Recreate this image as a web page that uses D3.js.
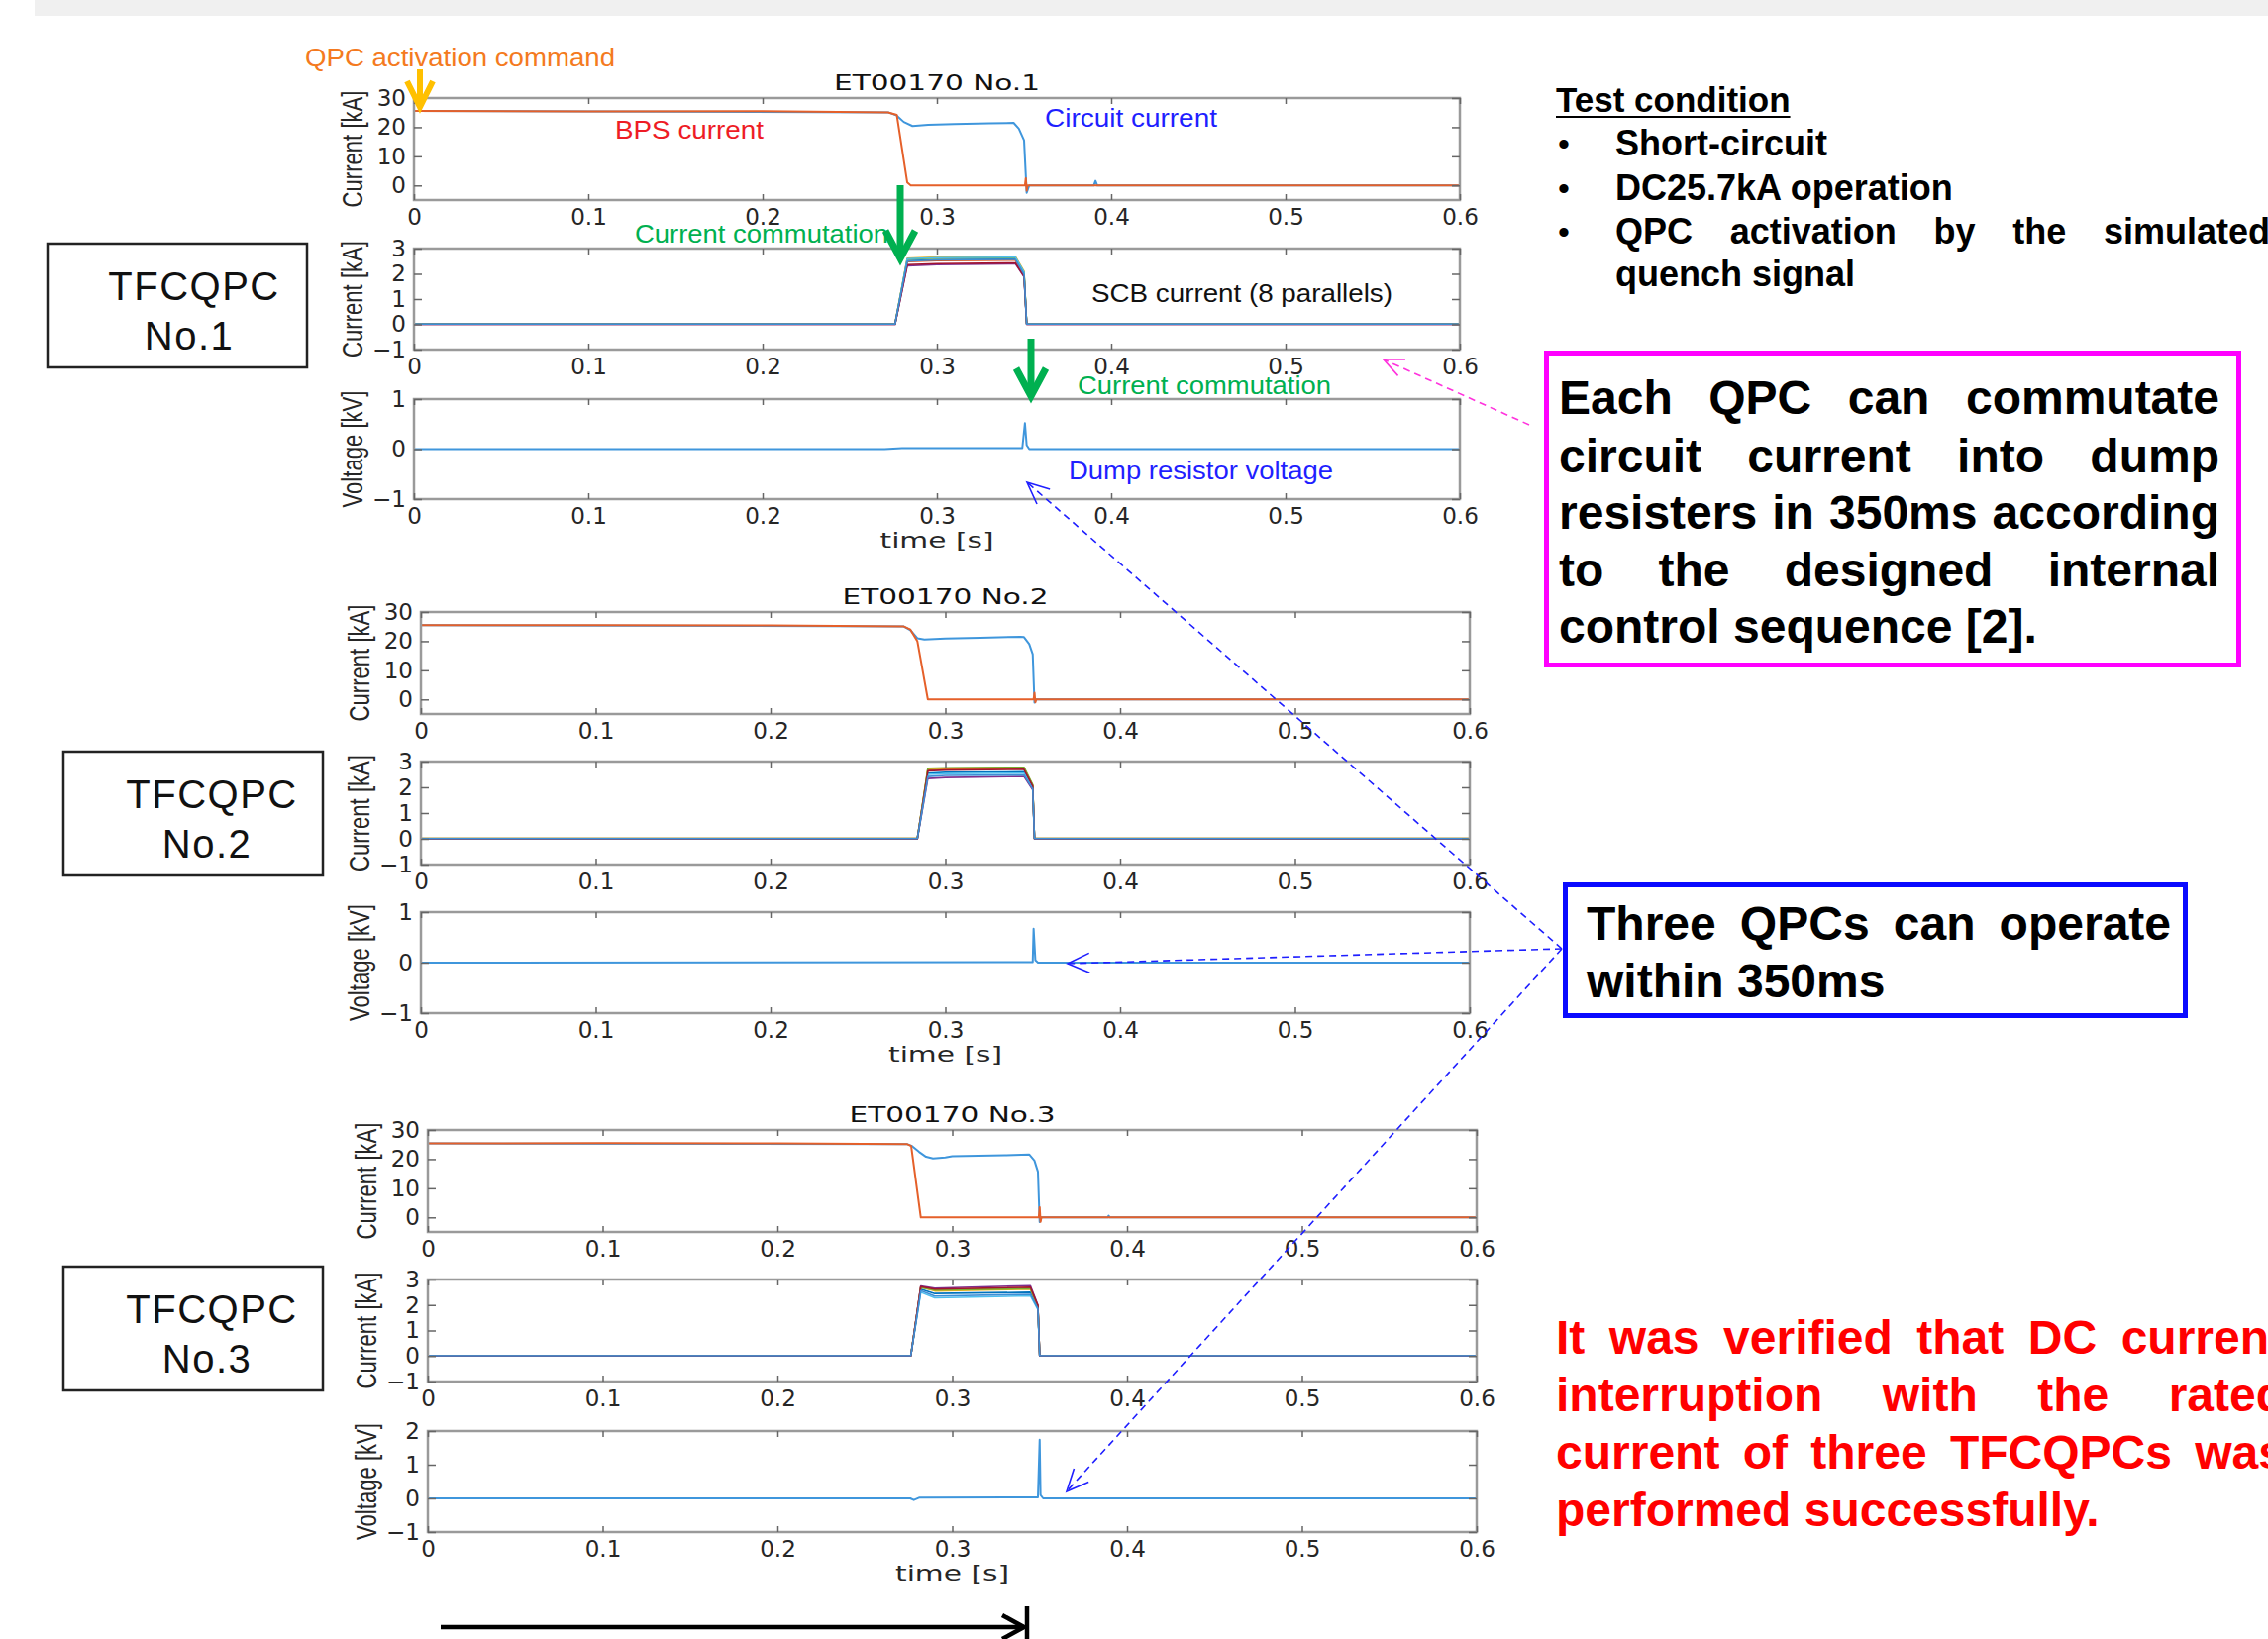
<!DOCTYPE html>
<html>
<head>
<meta charset="utf-8">
<script src="https://cdnjs.cloudflare.com/ajax/libs/d3/7.8.5/d3.min.js"></script>
<style>
  html, body { margin: 0; padding: 0; background: #fff; overflow: hidden; }
  svg { display: block; }
</style>
</head>
<body>
<div id="vis"></div>
<script>
// ---------------- values ----------------
const timeTicks = [0, 0.1, 0.2, 0.3, 0.4, 0.5, 0.6];
const currentTicks = [0, 10, 20, 30];
const scbTicks = [-1, 0, 1, 2, 3];
const voltTicks = [-1, 0, 1];
const voltTicks3 = [-1, 0, 1, 2];

const qpcTitles = ["ET00170 No.1", "ET00170 No.2", "ET00170 No.3"];
const boxNames = ["No.1", "No.2", "No.3"];

// BPS current [kA]  (time [s], value)
const bps1 = [[0,25.6],[0.1,25.4],[0.2,25.5],[0.272,25.1],[0.277,24.2],[0.283,1.0],[0.285,0],[0.3505,0],[0.351,2.5],[0.3515,-1.8],[0.352,0],[0.6,0]];
const bps2 = [[0,25.5],[0.1,25.5],[0.2,25.4],[0.276,25.1],[0.280,24.0],[0.284,20.0],[0.290,0],[0.3505,0],[0.351,2.3],[0.3515,-1.0],[0.352,0],[0.6,0]];
const bps3 = [[0,25.4],[0.1,25.5],[0.2,25.4],[0.274,25.2],[0.2765,24.5],[0.282,0],[0.3495,0],[0.350,3.5],[0.3505,-1.5],[0.351,0],[0.6,0]];

// circuit current [kA]
const circ1 = [[0,25.6],[0.272,25.1],[0.277,24.0],[0.281,21.8],[0.286,20.4],[0.295,20.8],[0.31,21.1],[0.33,21.3],[0.344,21.5],[0.347,19.5],[0.350,15.5],[0.3515,-2.5],[0.353,0],[0.390,0],[0.391,1.6],[0.392,0],[0.6,0]];
const circ2 = [[0,25.5],[0.276,25.1],[0.280,23.8],[0.284,21.0],[0.288,20.6],[0.30,20.9],[0.32,21.2],[0.343,21.5],[0.345,21.4],[0.348,19.0],[0.350,15.5],[0.351,-1.1],[0.352,0],[0.6,0]];
const circ3 = [[0,25.4],[0.274,25.2],[0.277,24.5],[0.281,22.5],[0.285,20.8],[0.289,20.2],[0.296,20.6],[0.30,21.0],[0.33,21.3],[0.344,21.6],[0.347,19.5],[0.349,15.7],[0.350,-1.6],[0.351,0],[0.389,0],[0.3895,0.6],[0.390,0],[0.6,0]];

// SCB currents [kA], 8 parallels: shared time points + one value row per parallel
const scbColors = ["#0072bd", "#d95319", "#edb120", "#7e2f8e", "#77ac30", "#4dbeee", "#a2142f", "#3d8fd6"];
const scbTime1 = [0, 0.276, 0.283, 0.300, 0.345, 0.350, 0.3515, 0.6];
const scb1 = [
  [0.02, 0.02, 2.52, 2.56, 2.58, 2.00, 0.02, 0.02],
  [0.01, 0.01, 2.48, 2.52, 2.54, 1.96, 0.01, 0.01],
  [0.03, 0.03, 2.62, 2.66, 2.69, 2.10, 0.03, 0.03],
  [0.00, 0.00, 2.32, 2.36, 2.40, 1.88, 0.00, 0.00],
  [0.02, 0.02, 2.58, 2.62, 2.64, 2.05, 0.02, 0.02],
  [0.01, 0.01, 2.60, 2.64, 2.66, 2.06, 0.01, 0.01],
  [0.00, 0.00, 2.36, 2.40, 2.43, 1.90, 0.00, 0.00],
  [0.01, 0.01, 2.50, 2.55, 2.57, 1.98, 0.01, 0.01]
];
const scbTime2 = [0, 0.284, 0.290, 0.300, 0.345, 0.350, 0.351, 0.6];
const scb2 = [
  [0.01, 0.01, 2.55, 2.58, 2.60, 2.00, 0.01, 0.01],
  [0.02, 0.02, 2.68, 2.70, 2.72, 2.05, 0.02, 0.02],
  [0.01, 0.01, 2.72, 2.74, 2.76, 2.08, 0.01, 0.01],
  [0.00, 0.00, 2.34, 2.38, 2.42, 1.90, 0.00, 0.00],
  [0.02, 0.02, 2.74, 2.76, 2.78, 2.10, 0.02, 0.02],
  [0.01, 0.01, 2.50, 2.53, 2.55, 1.98, 0.01, 0.01],
  [0.00, 0.00, 2.64, 2.67, 2.70, 2.04, 0.00, 0.00],
  [0.01, 0.01, 2.42, 2.46, 2.48, 1.94, 0.01, 0.01]
];
const scbTime3 = [0, 0.2763, 0.282, 0.290, 0.3447, 0.349, 0.350, 0.6];
const scb3 = [
  [0.01, 0.01, 2.62, 2.45, 2.50, 1.90, 0.01, 0.01],
  [0.02, 0.02, 2.72, 2.60, 2.66, 1.95, 0.02, 0.02],
  [0.01, 0.01, 2.70, 2.55, 2.62, 1.93, 0.01, 0.01],
  [0.00, 0.00, 2.75, 2.66, 2.76, 2.00, 0.00, 0.00],
  [0.02, 0.02, 2.68, 2.58, 2.64, 1.95, 0.02, 0.02],
  [0.01, 0.01, 2.50, 2.28, 2.36, 1.82, 0.01, 0.01],
  [0.00, 0.00, 2.72, 2.62, 2.70, 1.98, 0.00, 0.00],
  [0.01, 0.01, 2.56, 2.35, 2.42, 1.86, 0.01, 0.01]
];

// dump resistor voltage [kV]
const volt1 = [[0,0],[0.27,0],[0.28,0.02],[0.349,0.02],[0.3505,0.52],[0.3515,0.08],[0.353,0],[0.6,0]];
const volt2 = [[0,0],[0.35,0.01],[0.3505,0.67],[0.3515,0.05],[0.353,0],[0.6,0]];
const volt3 = [[0,0],[0.276,0],[0.278,-0.05],[0.281,0.02],[0.349,0.03],[0.350,1.74],[0.3505,0.1],[0.352,0],[0.6,0]];

// slide texts
const testLines = ["Short-circuit", "DC25.7kA operation", "QPC activation by the simulated", "quench signal"];
const magentaLines = ["Each QPC can commutate", "circuit current into dump", "resisters in 350ms according", "to the designed internal", "control sequence [2]."];
const blueLines = ["Three QPCs can operate", "within 350ms"];
const redLines = ["It was verified that DC current", "interruption with the rated", "current of three TFCQPCs was", "performed successfully."];

// ---------------- drawing ----------------
const W = 2290, H = 1655;
const tickFont = "'DejaVu Sans', Verdana, sans-serif";
const narrowFont = "'Liberation Sans Narrow', 'Liberation Sans', Arial, sans-serif";
const boldFont = "'Liberation Sans', Arial, sans-serif";

const svg = d3.select("#vis").append("svg")
    .attr("width", W)
    .attr("height", H);

svg.append("rect").attr("width", W).attr("height", H).attr("fill", "#fff");
// grey band of the slide header
svg.append("rect").attr("x", 35).attr("y", 0).attr("width", W - 35).attr("height", 16).attr("fill", "#f0f0f0");

const groups = [
  { x0: 418, x1: 1474, tops: [99, 251, 403], bots: [202, 353, 504], boxX: 48, boxY: 246, boxW: 262, txt: 196, ntxt: 191 },
  { x0: 425, x1: 1484, tops: [618, 769, 921], bots: [721, 873, 1023], boxX: 64, boxY: 759, boxW: 262, txt: 214, ntxt: 209 },
  { x0: 432, x1: 1491, tops: [1141, 1292, 1445], bots: [1244, 1395, 1547], boxX: 64, boxY: 1279, boxW: 262, txt: 214, ntxt: 209 }
];

const qpcs = [
  { bps: bps1, circ: circ1, scbTime: scbTime1, scb: scb1, volt: volt1, voltDomain: [-1, 1], voltTicks: voltTicks },
  { bps: bps2, circ: circ2, scbTime: scbTime2, scb: scb2, volt: volt2, voltDomain: [-1, 1], voltTicks: voltTicks },
  { bps: bps3, circ: circ3, scbTime: scbTime3, scb: scb3, volt: volt3, voltDomain: [-1, 2], voltTicks: voltTicks3 }
];

function drawPanel(x0, x1, top, bottom, yDomain, yTicks, ylabel, series) {
  var x = d3.scaleLinear().domain([0, 0.6]).range([x0, x1]);
  var y = d3.scaleLinear().domain(yDomain).range([bottom, top]);
  var line = d3.line().x(function(d) { return x(d[0]); }).y(function(d) { return y(d[1]); });

  // traces
  series.forEach(function(s) {
    svg.append("path")
      .datum(s.pts)
      .attr("d", line)
      .attr("fill", "none")
      .attr("stroke", s.color)
      .attr("stroke-width", s.width || 2)
      .attr("stroke-linejoin", "round");
  });

  // box
  svg.append("rect")
    .attr("x", x0).attr("y", top)
    .attr("width", x1 - x0).attr("height", bottom - top)
    .attr("fill", "none").attr("stroke", "#9a9a9a").attr("stroke-width", 2.5);

  // axes, ticks pointing inward like matlab
  var axes = [
    { a: d3.axisBottom(x).tickValues(timeTicks).tickSizeInner(-6).tickPadding(9).tickFormat(d3.format("")), t: "translate(0," + bottom + ")" },
    { a: d3.axisTop(x).tickValues(timeTicks).tickSizeInner(-6).tickFormat(""), t: "translate(0," + top + ")" },
    { a: d3.axisLeft(y).tickValues(yTicks).tickSizeInner(-8).tickPadding(8).tickFormat(d3.format("")), t: "translate(" + x0 + ",0)" },
    { a: d3.axisRight(y).tickValues(yTicks).tickSizeInner(-8).tickFormat(""), t: "translate(" + x1 + ",0)" }
  ];
  axes.forEach(function(ax) {
    var g = svg.append("g")
      .attr("transform", ax.t)
      .call(ax.a.tickSizeOuter(0));
    g.attr("font-family", tickFont).attr("font-size", 23);
    g.select(".domain").remove();
    g.selectAll(".tick line").attr("stroke", "#666").attr("stroke-width", 1.5);
    g.selectAll(".tick text").attr("fill", "#262626");
  });

  // y label
  var cy = (top + bottom) / 2;
  svg.append("text")
    .attr("transform", "translate(" + (x0 - 52) + "," + cy + ") rotate(-90)")
    .attr("text-anchor", "middle")
    .attr("font-family", narrowFont)
    .attr("font-size", 29)
    .attr("fill", "#262626")
    .attr("textLength", 118)
    .attr("lengthAdjust", "spacingAndGlyphs")
    .text(ylabel);

  return { x: x, y: y };
}

groups.forEach(function(G, i) {
  var q = qpcs[i];

  // panel A: BPS + circuit current
  var pA = drawPanel(G.x0, G.x1, G.tops[0], G.bots[0], [-5, 30], currentTicks, "Current [kA]", [
    { pts: q.circ, color: "#3f96dc" },
    { pts: q.bps, color: "#e5602a" }
  ]);

  // panel B: SCB currents
  var scbSeries = q.scb.map(function(row, k) {
    return { pts: row.map(function(v, j) { return [q.scbTime[j], v]; }), color: scbColors[k], width: 1.6 };
  });
  drawPanel(G.x0, G.x1, G.tops[1], G.bots[1], [-1, 3], scbTicks, "Current [kA]", scbSeries);

  // panel C: dump resistor voltage
  drawPanel(G.x0, G.x1, G.tops[2], G.bots[2], q.voltDomain, q.voltTicks, "Voltage [kV]", [
    { pts: q.volt, color: "#3f96dc" }
  ]);

  // title
  svg.append("text")
    .attr("x", pA.x(0.3)).attr("y", G.tops[0] - 8)
    .attr("text-anchor", "middle")
    .attr("font-family", tickFont).attr("font-size", 22)
    .attr("textLength", 208).attr("lengthAdjust", "spacingAndGlyphs")
    .attr("fill", "#111")
    .text(qpcTitles[i]);

  // time label
  svg.append("text")
    .attr("x", pA.x(0.3)).attr("y", G.bots[2] + 49)
    .attr("text-anchor", "middle")
    .attr("font-family", tickFont).attr("font-size", 22)
    .attr("textLength", 115).attr("lengthAdjust", "spacingAndGlyphs")
    .attr("fill", "#262626")
    .text("time [s]");

  // TFCQPC box
  svg.append("rect")
    .attr("x", G.boxX).attr("y", G.boxY).attr("width", G.boxW).attr("height", 125)
    .attr("fill", "none").attr("stroke", "#222").attr("stroke-width", 2.5);
  svg.append("text")
    .attr("x", G.txt).attr("y", G.boxY + 57)
    .attr("text-anchor", "middle").attr("font-family", boldFont).attr("font-size", 40)
    .attr("letter-spacing", 1.5).attr("fill", "#111")
    .text("TFCQPC");
  svg.append("text")
    .attr("x", G.ntxt).attr("y", G.boxY + 107)
    .attr("text-anchor", "middle").attr("font-family", boldFont).attr("font-size", 40)
    .attr("letter-spacing", 1.5).attr("fill", "#111")
    .text(boxNames[i]);
});

// annotations inside the first group
const notes = [
  { text: "QPC activation command", x: 308, y: 67, len: 313, color: "#f47a20" },
  { text: "BPS current", x: 621, y: 140, len: 150, color: "#ee1c25" },
  { text: "Circuit current", x: 1055, y: 128, len: 174, color: "#1f1fff" },
  { text: "Current commutation", x: 641, y: 245, len: 256, color: "#00b050" },
  { text: "SCB current (8 parallels)", x: 1102, y: 305, len: 304, color: "#111" },
  { text: "Current commutation", x: 1088, y: 398, len: 256, color: "#00b050" },
  { text: "Dump resistor voltage", x: 1079, y: 484, len: 267, color: "#1f1fff" }
];
notes.forEach(function(n) {
  svg.append("text")
    .attr("x", n.x).attr("y", n.y)
    .attr("font-family", narrowFont).attr("font-size", 26)
    .attr("textLength", n.len).attr("lengthAdjust", "spacingAndGlyphs")
    .attr("fill", n.color)
    .text(n.text);
});

// arrow helper: shaft + open V head
function arrow(x1, y1, x2, y2, color, width, headLen, headHalf, dash) {
  svg.append("line")
    .attr("x1", x1).attr("y1", y1).attr("x2", x2).attr("y2", y2)
    .attr("stroke", color).attr("stroke-width", width)
    .attr("stroke-dasharray", dash || null);
  var ang = Math.atan2(y2 - y1, x2 - x1);
  var ux = Math.cos(ang), uy = Math.sin(ang);
  var bx = x2 - ux * headLen, by = y2 - uy * headLen;
  var p1 = [bx - uy * headHalf, by + ux * headHalf];
  var p2 = [bx + uy * headHalf, by - ux * headHalf];
  svg.append("polyline")
    .attr("points", [p1, [x2, y2], p2].map(function(p) { return p.join(","); }).join(" "))
    .attr("fill", "none").attr("stroke", color)
    .attr("stroke-width", width)
    .attr("stroke-linejoin", "miter").attr("stroke-linecap", "butt");
}

arrow(424, 70, 424, 108, "#ffc000", 6, 26, 13);
arrow(909, 187, 909, 261, "#00b050", 7, 28, 15);
arrow(1041, 342, 1041, 400, "#00b050", 7, 28, 15);

// dashed pointers
arrow(1544, 429, 1397, 363, "#ff33dd", 1.6, 20, 9, "7,5");
arrow(1577, 958, 1037, 487, "#1f1fff", 1.6, 22, 10, "7,5");
arrow(1577, 958, 1078, 973, "#1f1fff", 1.6, 22, 10, "7,5");
arrow(1577, 958, 1077, 1506, "#1f1fff", 1.6, 22, 10, "7,5");

// bottom timing arrow
arrow(445, 1643, 1034, 1643, "#000", 4.5, 22, 12);
svg.append("line").attr("x1", 1037).attr("x2", 1037).attr("y1", 1622).attr("y2", 1655)
  .attr("stroke", "#000").attr("stroke-width", 4.5);

// ---------------- right-hand text ----------------
function textLine(str, x0, x1, y, size, color, justify) {
  var words = str.split(" ");
  if (!justify || words.length < 2) {
    return svg.append("text").attr("x", x0).attr("y", y)
      .attr("font-family", boldFont).attr("font-weight", "bold")
      .attr("font-size", size).attr("fill", color).text(str);
  }
  var nodes = words.map(function(w) {
    return svg.append("text").attr("y", y)
      .attr("font-family", boldFont).attr("font-weight", "bold")
      .attr("font-size", size).attr("fill", color).text(w);
  });
  var widths = nodes.map(function(n) { return n.node().getComputedTextLength(); });
  var gap = (x1 - x0 - d3.sum(widths)) / (words.length - 1);
  var x = x0;
  nodes.forEach(function(n, i) { n.attr("x", x); x += widths[i] + gap; });
}

// test condition
var tc = textLine("Test condition", 1571, 0, 113, 35, "#000", false);
var tcw = tc.node().getComputedTextLength();
svg.append("line").attr("x1", 1571).attr("x2", 1571 + tcw).attr("y1", 118).attr("y2", 118)
  .attr("stroke", "#000").attr("stroke-width", 2);
const testY = [157, 202, 246, 289];
testLines.forEach(function(s, i) {
  if (i < 3) {
    svg.append("text").attr("x", 1573).attr("y", testY[i])
      .attr("font-family", boldFont).attr("font-size", 34).attr("fill", "#000").text("\u2022");
  }
  textLine(s, 1631, 2292, testY[i], 36, "#000", i === 2);
});

// magenta box
svg.append("rect").attr("x", 1561.5).attr("y", 356.5).attr("width", 699).attr("height", 315)
  .attr("fill", "none").attr("stroke", "#ff00ff").attr("stroke-width", 5);
const magentaY = [418, 477, 534, 592, 649];
magentaLines.forEach(function(s, i) {
  textLine(s, 1574, 2241, magentaY[i], 48, "#000", i < magentaLines.length - 1);
});

// blue box
svg.append("rect").attr("x", 1580.5).attr("y", 893.5).attr("width", 626).attr("height", 132)
  .attr("fill", "none").attr("stroke", "#0a0aff").attr("stroke-width", 5);
const blueY = [949, 1007];
blueLines.forEach(function(s, i) {
  textLine(s, 1602, 2192, blueY[i], 48, "#000", i < blueLines.length - 1);
});

// red conclusion
const redY = [1367, 1425, 1483, 1541];
redLines.forEach(function(s, i) {
  textLine(s, 1571, 2307, redY[i], 48, "#ff0000", i < redLines.length - 1);
});
</script>
</body>
</html>
